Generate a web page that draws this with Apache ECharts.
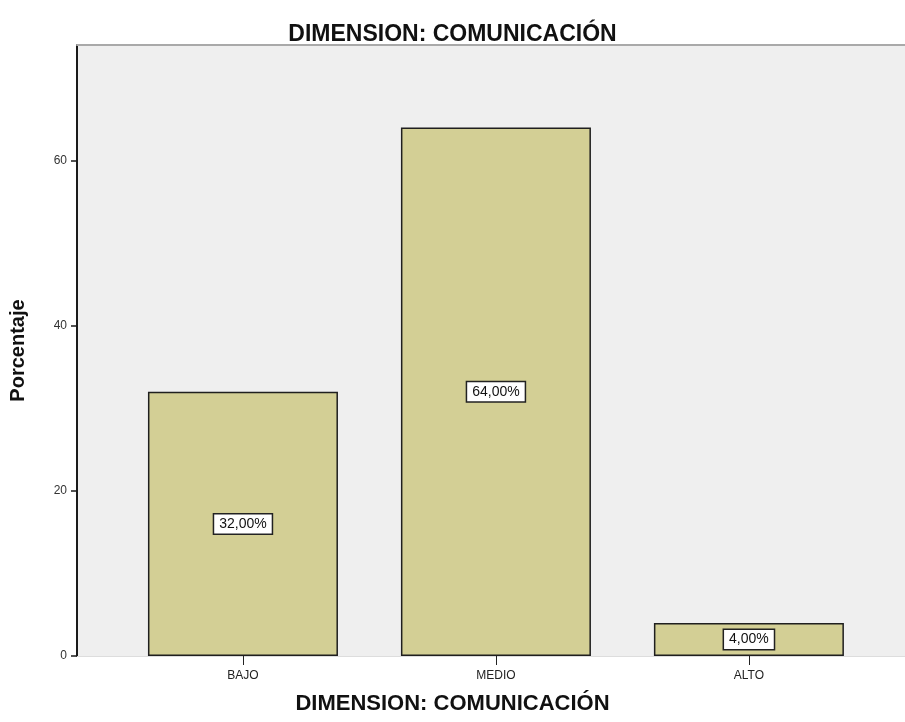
<!DOCTYPE html>
<html>
<head>
<meta charset="utf-8">
<script src="https://cdn.jsdelivr.net/npm/echarts@6/dist/echarts.min.js"></script>
<style>
  html, body { margin: 0; padding: 0; background: #ffffff; }
  #chart { width: 905px; height: 722px; }
</style>
</head>
<body>
<div id="chart"></div>
<script>
// Categories and percentages for the communication dimension
const categorias = ['BAJO', 'MEDIO', 'ALTO'];
const porcentajes = [32, 64, 4];
const posiciones = [1, 2, 3];
const yTicks = [0, 20, 40, 60];

const tituloTexto = 'DIMENSION: COMUNICACIÓN';
const ejeX = 'DIMENSION: COMUNICACIÓN';
const ejeY = 'Porcentaje';

const chart = echarts.init(document.getElementById('chart'), null, { renderer: 'canvas' });

const serieDatos = posiciones.map((p, i) => [p, porcentajes[i]]);

const option = {
  animation: false,
  backgroundColor: '#ffffff',
  textStyle: { fontFamily: 'Liberation Sans, Arial, sans-serif' },
  title: [{
    text: tituloTexto,
    left: 'center',
    top: 18,
    textStyle: { fontSize: 23, fontWeight: 'bold', color: '#111', fontFamily: 'Liberation Sans' }
  }, {
    // x-axis caption, centred on the page like the main title
    text: ejeX,
    left: 'center',
    top: 688,
    textStyle: { fontSize: 22, fontWeight: 'bold', color: '#111', fontFamily: 'Liberation Sans' }
  }],
  grid: {
    left: 77, right: 0, top: 45, bottom: 66,
    show: true, backgroundColor: '#efefef', borderWidth: 0
  },
  xAxis: [{
    type: 'value',
    min: 0.344, max: 3.617,
    position: 'bottom',
    axisLine: { show: true, lineStyle: { color: '#dddddd', width: 1 } },
    axisTick: { show: true, customValues: posiciones, length: 9, lineStyle: { color: '#222', width: 1 } },
    axisLabel: {
      customValues: posiciones,
      formatter: v => categorias[posiciones.indexOf(Math.round(v))] || '',
      fontSize: 12, color: '#222', margin: 14
    },
    splitLine: { show: false }
  }, {
    type: 'value',
    min: 0.344, max: 3.617,
    position: 'top',
    axisLine: { show: true, lineStyle: { color: '#a9a9a9', width: 2 } },
    axisTick: { show: false },
    axisLabel: { show: false },
    splitLine: { show: false }
  }],
  yAxis: {
    type: 'value',
    min: 0, max: 74,
    name: ejeY,
    nameLocation: 'middle',
    nameGap: 49,
    nameRotate: 90,
    nameTextStyle: { fontSize: 20, fontWeight: 'bold', color: '#111', fontFamily: 'Liberation Sans' },
    axisLine: { show: true, lineStyle: { color: '#1a1a1a', width: 2 } },
    axisTick: { show: true, customValues: yTicks, length: 6, lineStyle: { color: '#1a1a1a', width: 1.5 } },
    axisLabel: { customValues: yTicks, fontSize: 12, color: '#333', margin: 10 },
    splitLine: { show: false }
  },
  series: [{
    type: 'bar',
    xAxisIndex: 0,
    data: serieDatos,
    barWidth: 190,
    itemStyle: { color: '#d3cf95', borderColor: '#1f1f1f', borderWidth: 1.5 },
    label: {
      show: true,
      position: 'inside',
      formatter: p => p.value[1].toFixed(2).replace('.', ',') + '%',
      fontSize: 14,
      color: '#111',
      backgroundColor: '#ffffff',
      borderColor: '#222',
      borderWidth: 1.5,
      padding: [3, 5, 2, 5]
    }
  }]
};

chart.setOption(option);
</script>
</body>
</html>
